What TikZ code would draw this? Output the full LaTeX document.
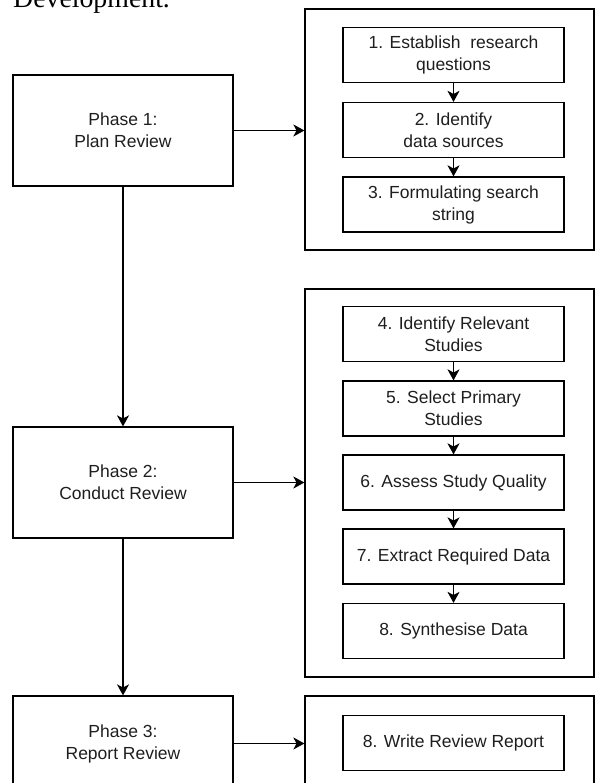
\documentclass[tikz,border=0pt]{standalone}
\usepackage{fontspec}
\setmainfont{Liberation Sans}
\newfontfamily\docserif{Liberation Serif}
\usetikzlibrary{arrows.meta}
\definecolor{textgray}{RGB}{30,30,30}
\tikzset{
 box/.style={draw=black, line width=1.2pt, align=center, font=\fontsize{17.5}{22}\selectfont, text=textgray, inner sep=0pt},
 phasebox/.style={box, minimum width=220pt},
 stepbox/.style={box, minimum width=221pt, minimum height=55pt},
 panel/.style={draw=black, line width=1.2pt, minimum width=289pt, inner sep=0pt},
 conn/.style={line width=1.2pt, -{Stealth[length=11pt,width=12pt,inset=3pt]}},
}
\begin{document}
\begin{tikzpicture}[x=1pt,y=-1pt]
\useasboundingbox (0,0) rectangle (595,783);
\clip (0,0) rectangle (595,783);
\node[anchor=base west, font=\docserif\fontsize{27.8}{30}\selectfont, inner sep=0pt] (dev) at (13,7.5) {Development.};

% panels
\node[panel, minimum height=241pt] (q1) at (449.5,129.5) {};
\node[panel, minimum height=388pt] (q2) at (449.5,483) {};
\node[panel, minimum height=94pt] (q3) at (449.5,743) {};

% phase boxes
\node[phasebox, minimum height=111pt] (p1) at (123,130.5) {Phase 1:\\Plan Review};
\node[phasebox, minimum height=111pt] (p2) at (123,482.5) {Phase 2:\\Conduct Review};
\node[phasebox, minimum height=95pt] (p3) at (123,743.5) {Phase 3:\\Report Review};

% steps
\node[stepbox] (s1) at (453.5,55) {1. Establish \ research\\questions};
\node[stepbox] (s2) at (453.5,130) {2. Identify\\data sources};
\node[stepbox] (s3) at (453.5,204.5) {3. Formulating search\\string};
\node[stepbox] (s4) at (453.5,334) {4. Identify Relevant\\Studies};
\node[stepbox] (s5) at (453.5,408.5) {5. Select Primary\\Studies};
\node[stepbox] (s6) at (453.5,482.5) {6. Assess Study Quality};
\node[stepbox] (s7) at (453.5,556.5) {7. Extract Required Data};
\node[stepbox] (s8) at (453.5,631) {8. Synthesise Data};
\node[stepbox] (s9) at (453.5,743) {8. Write Review Report};

% connectors
\draw[conn] (p1) -- (p2);
\draw[conn] (p2) -- (p3);
\draw[conn] (p1.east) -- (p1.east -| q1.west);
\draw[conn] (p2.east) -- (p2.east -| q2.west);
\draw[conn] (p3.east) -- (p3.east -| q3.west);
\draw[conn] (s1) -- (s2);
\draw[conn] (s2) -- (s3);
\draw[conn] (s4) -- (s5);
\draw[conn] (s5) -- (s6);
\draw[conn] (s6) -- (s7);
\draw[conn] (s7) -- (s8);
\end{tikzpicture}
\end{document}
